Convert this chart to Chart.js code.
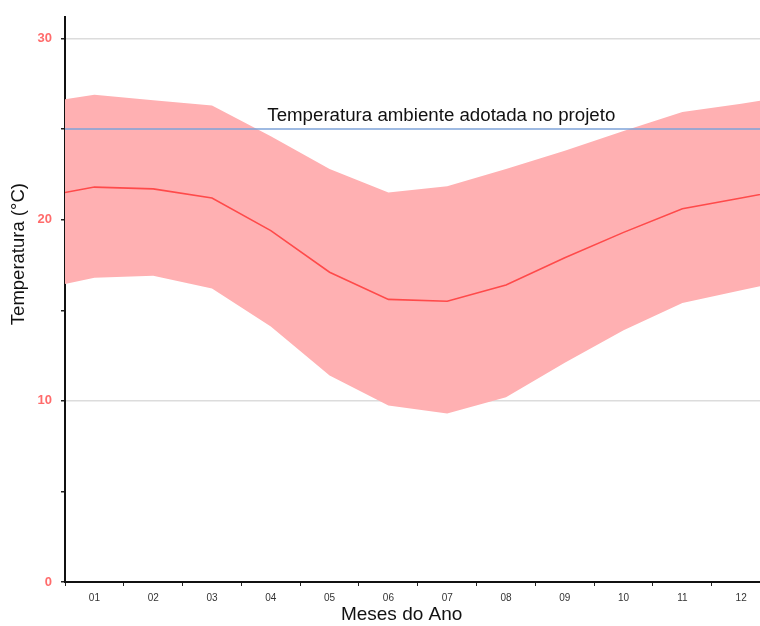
<!DOCTYPE html>
<html>
<head>
  <title>Temperatura ao longo do ano</title>
  <script src="https://cdn.jsdelivr.net/npm/chart.js"></script>
  <style>
    body { margin: 0; background: #fff; overflow: hidden; }
    .chart-container { position: relative; width: 760px; height: 626px; }
  </style>
</head>
<body>
  <div class="chart-container">
    <canvas id="tempChart"></canvas>
  </div>

  <script>
    // Data
    const months = [1, 2, 3, 4, 5, 6, 7, 8, 9, 10, 11, 12];
    const monthLabels = ['01', '02', '03', '04', '05', '06', '07', '08', '09', '10', '11', '12'];
    const meanTemp = [21.8, 21.7, 21.2, 19.4, 17.1, 15.6, 15.5, 16.4, 17.9, 19.3, 20.6, 21.2];
    const maxTemp = [26.9, 26.6, 26.3, 24.6, 22.8, 21.5, 21.85, 22.8, 23.8, 24.9, 25.95, 26.4];
    const minTemp = [16.8, 16.9, 16.2, 14.1, 11.4, 9.75, 9.3, 10.2, 12.1, 13.9, 15.4, 16.1];
    const refTemp = 25;
    const refLabel = 'Temperatura ambiente adotada no projeto';
    const xTitle = 'Meses do Ano';
    const yTitle = 'Temperatura (°C)';
    const yTicks = [0, 5, 10, 15, 20, 25, 30];

    const FONT = '"Liberation Sans", Arial, sans-serif';

    // series wrap around the year (Dec before Jan, Jan after Dec)
    function cyclic(arr) {
      const pts = months.map((m, i) => ({ x: m, y: arr[i] }));
      pts.unshift({ x: 0, y: arr[arr.length - 1] });
      pts.push({ x: 13, y: arr[0] });
      return pts;
    }

    // reference line label + axis titles (titles sit off-centre in the original)
    const textPlugin = {
      id: 'texts',
      afterDraw(chart) {
        const { ctx, scales } = chart;
        ctx.save();
        ctx.fillStyle = '#111';
        ctx.textAlign = 'center';

        ctx.font = '18.7px ' + FONT;
        ctx.textBaseline = 'alphabetic';
        ctx.fillText(refLabel, scales.x.getPixelForValue(6.9), scales.y.getPixelForValue(refTemp) - 8);

        ctx.font = '19px ' + FONT;
        ctx.textBaseline = 'middle';
        ctx.fillText(xTitle, scales.x.getPixelForValue(6.225), 615);

        ctx.translate(19, scales.y.getPixelForValue(18.1));
        ctx.rotate(-Math.PI / 2);
        ctx.font = '18.5px ' + FONT;
        ctx.fillText(yTitle, 0, 0);
        ctx.restore();
      }
    };

    new Chart(document.getElementById('tempChart'), {
      type: 'line',
      data: {
        datasets: [
          {
            label: 'ref',
            data: [{ x: 0, y: refTemp }, { x: 13, y: refTemp }],
            borderColor: '#7ea3d8',
            borderWidth: 1.5,
            pointRadius: 0,
            fill: false,
            order: 0
          },
          {
            label: 'media',
            data: cyclic(meanTemp),
            borderColor: '#ff4a4a',
            borderWidth: 1.6,
            pointRadius: 0,
            fill: false,
            order: 1
          },
          {
            label: 'max',
            data: cyclic(maxTemp),
            borderWidth: 0,
            borderColor: 'rgba(0,0,0,0)',
            backgroundColor: '#ffb0b2',
            pointRadius: 0,
            fill: '+1',
            order: 2
          },
          {
            label: 'min',
            data: cyclic(minTemp),
            borderWidth: 0,
            borderColor: 'rgba(0,0,0,0)',
            pointRadius: 0,
            fill: false,
            order: 3
          }
        ]
      },
      options: {
        responsive: true,
        maintainAspectRatio: false,
        animation: false,
        layout: { padding: { top: 15, right: 0, left: 0, bottom: 0 } },
        plugins: {
          legend: { display: false },
          tooltip: { enabled: false }
        },
        scales: {
          x: {
            type: 'linear',
            min: 0.5,
            max: 12.32,
            afterBuildTicks(scale) {
              const t = [];
              months.forEach(m => { t.push({ value: m - 0.5 }); t.push({ value: m }); });
              scale.ticks = t;
            },
            afterFit(scale) { scale.height = 44; },
            ticks: {
              autoSkip: false,
              maxRotation: 0,
              padding: 6,
              color: '#333',
              font: { size: 10, family: FONT },
              callback: (v) => Number.isInteger(v) ? monthLabels[v - 1] : ''
            },
            grid: {
              drawOnChartArea: false,
              tickLength: 4,
              tickColor: (c) => Number.isInteger(c.tick.value) ? 'rgba(0,0,0,0)' : '#222'
            },
            border: { color: '#111', width: 2 }
          },
          y: {
            min: 0,
            max: 31.2,
            afterBuildTicks(scale) { scale.ticks = yTicks.map(v => ({ value: v })); },
            afterFit(scale) { scale.width = 65; },
            ticks: {
              padding: 9,
              color: '#ff6b6b',
              font: { size: 13, weight: 'bold', family: FONT },
              callback: (v) => v % 10 === 0 ? String(v) : ''
            },
            grid: {
              color: (c) => (c.tick.value % 10 === 0 && c.tick.value > 0) ? '#dcdcdc' : 'rgba(0,0,0,0)',
              lineWidth: 1.5,
              tickLength: 4,
              tickColor: '#222'
            },
            border: { color: '#111', width: 2 }
          }
        }
      },
      plugins: [textPlugin]
    });
  </script>
</body>
</html>
